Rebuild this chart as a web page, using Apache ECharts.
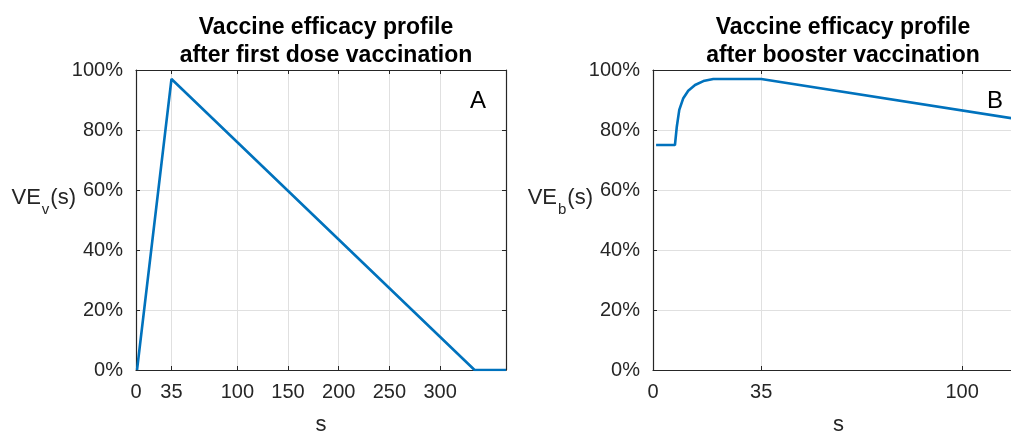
<!DOCTYPE html>
<html>
<head>
<meta charset="utf-8">
<script src="https://cdn.jsdelivr.net/npm/echarts@6/dist/echarts.min.js"></script>
<style>
  html, body { margin: 0; padding: 0; background: #fff; }
  #chart { width: 1011px; height: 433px; }
</style>
</head>
<body>
<div id="chart"></div>
<script>
// Panel A: efficacy after the first dose (s in days, VE in %)
const firstDoseDays = [1, 35, 334, 365];
const firstDoseVE = [0, 97, 0, 0];
const firstDoseTicks = [0, 35, 100, 150, 200, 250, 300];

// Panel B: efficacy after the booster dose
const boosterDays = [1, 7.1, 7.7, 8.5, 9.8, 11.4, 13.6, 16.3, 19.5, 21, 35, 120];
const boosterVE = [75, 75, 81.1, 86.7, 90.6, 93.1, 95.0, 96.3, 97.0, 97, 97, 83.3];
const boosterTicks = [0, 35, 100];

const FONT = '"Liberation Sans", Arial, Helvetica, sans-serif';
const INK = '#262626';
const GRIDC = '#e0e0e0';
const BLUE = '#0072BD';

const pairs = (xs, ys) => xs.map((x, i) => [x, ys[i]]);

const grids = [
  { left: 136, top: 70, width: 370, height: 300 },
  { left: 653, top: 70, width: 371, height: 300 }
];

const boxLine = { show: true, onZero: false, lineStyle: { color: INK, width: 1.2 } };

function bottomAxis(gridIndex, max, ticks) {
  return {
    type: 'value', gridIndex, position: 'bottom', min: 0, max,
    name: 's', nameLocation: 'middle', nameGap: 44, nameMoveOverlap: false,
    nameTextStyle: { fontFamily: FONT, fontSize: 22, color: INK },
    axisLine: boxLine,
    axisTick: { show: true, inside: true, length: 4, customValues: ticks, lineStyle: { color: INK } },
    axisLabel: { customValues: ticks, margin: 12, fontFamily: FONT, fontSize: 20, color: INK },
    splitLine: { show: true, customValues: ticks, lineStyle: { color: GRIDC, width: 1 } }
  };
}
function topAxis(gridIndex, max, ticks) {
  return {
    type: 'value', gridIndex, position: 'top', min: 0, max,
    axisLine: boxLine,
    axisTick: { show: true, inside: true, length: 4, customValues: ticks, lineStyle: { color: INK } },
    axisLabel: { show: false },
    splitLine: { show: false }
  };
}
function leftAxis(gridIndex, sub) {
  return {
    type: 'value', gridIndex, position: 'left', min: 0, max: 100, interval: 20,
    name: 'VE{sub|' + sub + '}(s)', nameLocation: 'middle', nameRotate: 0, nameGap: 60,
    nameMoveOverlap: false,
    nameTextStyle: {
      fontFamily: FONT, fontSize: 22, color: INK, padding: [0, 0, 44, 0],
      rich: { sub: { fontFamily: FONT, fontSize: 15, color: INK, padding: [24, 1, 0, 1] } }
    },
    axisLine: boxLine,
    axisTick: { show: true, inside: true, length: 4, lineStyle: { color: INK } },
    axisLabel: { formatter: '{value}%', margin: 13, fontFamily: FONT, fontSize: 20, color: INK },
    splitLine: { show: true, lineStyle: { color: GRIDC, width: 1 } }
  };
}
function rightAxis(gridIndex) {
  return {
    type: 'value', gridIndex, position: 'right', min: 0, max: 100, interval: 20,
    axisLine: boxLine,
    axisTick: { show: true, inside: true, length: 4, lineStyle: { color: INK } },
    axisLabel: { show: false },
    splitLine: { show: false }
  };
}

const titleStyle = { fontFamily: FONT, fontSize: 23, fontWeight: 'bold', color: '#000', lineHeight: 28 };

const option = {
  animation: false,
  backgroundColor: '#fff',
  title: [
    { text: 'Vaccine efficacy profile\nafter first dose vaccination', left: 321, top: 9, textAlign: 'center', textStyle: titleStyle },
    { text: 'Vaccine efficacy profile\nafter booster vaccination', left: 838, top: 9, textAlign: 'center', textStyle: titleStyle }
  ],
  grid: grids.map(g => Object.assign({ outerBoundsMode: 'none', containLabel: false }, g)),
  xAxis: [
    bottomAxis(0, 365, firstDoseTicks), topAxis(0, 365, firstDoseTicks),
    bottomAxis(1, 120, boosterTicks), topAxis(1, 120, boosterTicks)
  ],
  yAxis: [
    leftAxis(0, 'v'), rightAxis(0),
    leftAxis(1, 'b'), rightAxis(1)
  ],
  graphic: [
    { type: 'text', left: 470, top: 89, style: { text: 'A', fontFamily: FONT, fontSize: 24, fill: '#000' } },
    { type: 'text', left: 987, top: 89, style: { text: 'B', fontFamily: FONT, fontSize: 24, fill: '#000' } }
  ],
  series: [
    {
      type: 'line', xAxisIndex: 0, yAxisIndex: 0, data: pairs(firstDoseDays, firstDoseVE),
      showSymbol: false, lineStyle: { color: BLUE, width: 2.6 }, itemStyle: { color: BLUE }, clip: true
    },
    {
      type: 'line', xAxisIndex: 2, yAxisIndex: 2, data: pairs(boosterDays, boosterVE),
      showSymbol: false, lineStyle: { color: BLUE, width: 2.6 }, itemStyle: { color: BLUE }, clip: true
    }
  ]
};

const chart = echarts.init(document.getElementById('chart'), null, { renderer: 'canvas' });
chart.setOption(option);
</script>
</body>
</html>
